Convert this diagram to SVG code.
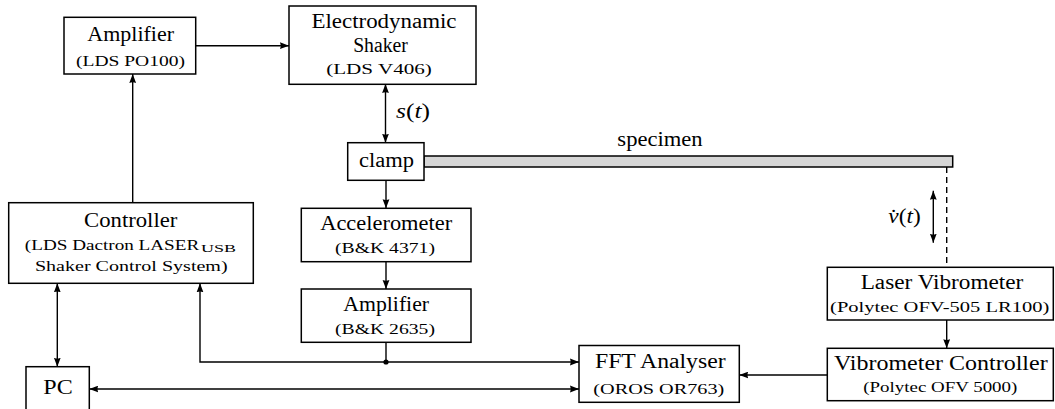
<svg xmlns="http://www.w3.org/2000/svg" width="1055" height="409" viewBox="0 0 1055 409">
  <style>
    .box { fill: #ffffff; stroke: #000000; stroke-width: 1.5; }
    .t { font-family: "Liberation Serif", "Times New Roman", serif; font-size: 20px; fill: #000000; text-anchor: middle; }
    .s { font-family: "Liberation Serif", "Times New Roman", serif; font-size: 14.5px; fill: #000000; text-anchor: middle; }
    .sc { font-family: "Liberation Serif", "Times New Roman", serif; font-size: 11px; fill: #000000; }
    .m { font-family: "Liberation Serif", "Times New Roman", serif; font-size: 20px; fill: #000000; }
    .it { font-style: italic; }
    .wire { fill: none; stroke: #000000; stroke-width: 1.4; }
    .one { marker-end: url(#head); }
    .two { marker-start: url(#head); marker-end: url(#head); }
    .dash { fill: none; stroke: #000000; stroke-width: 1.4; stroke-dasharray: 6 4; }
  </style>
  <defs>
    <marker id="head" markerUnits="userSpaceOnUse" markerWidth="10" markerHeight="8" refX="9" refY="4" orient="auto-start-reverse">
      <path d="M0,0.6 L9,4 L0,7.4 Q1.6,4 0,0.6 z" fill="#000000"/>
    </marker>
  </defs>

  <rect width="1055" height="409" fill="#ffffff"/>

  <!-- specimen beam held by the clamp -->
  <g id="specimen">
    <rect x="424" y="156" width="528.7" height="11" fill="#d6d6d6" stroke="#000000" stroke-width="1.5"/>
    <text class="t" x="660" y="146" textLength="85.3" lengthAdjust="spacingAndGlyphs">specimen</text>
  </g>

  <!-- connectors -->
  <g id="connectors">
    <path class="wire one" d="M196,45.7 H289"/>
    <path class="wire one" d="M132.7,202.7 V74"/>
    <path class="wire two" d="M385.5,84 V142.7"/>
    <path class="wire one" d="M386,180.3 V208.3"/>
    <path class="wire one" d="M386,261.7 V289"/>
    <path class="wire" d="M386,342.3 V362"/>
    <path class="wire one" d="M386,362 H200 V283.3"/>
    <path class="wire one" d="M386,362 H579"/>
    <circle cx="386" cy="362" r="2.6" fill="#000000"/>
    <path class="wire two" d="M89.3,389 H579"/>
    <path class="wire two" d="M57.3,283.3 V366.7"/>
    <path class="wire one" d="M827.3,375 H739.3"/>
    <path class="wire one" d="M946.7,320 V348.3"/>
    <path class="dash" d="M946.7,167 V267.3"/>
    <path class="wire two" d="M933.3,190.7 V242.7"/>
    <text class="m" x="396" y="117.7" textLength="34" lengthAdjust="spacingAndGlyphs"><tspan class="it">s</tspan>(<tspan class="it">t</tspan>)</text>
    <text class="m" x="888.3" y="223.3" textLength="32.4" lengthAdjust="spacingAndGlyphs"><tspan class="it">v̇</tspan>(<tspan class="it">t</tspan>)</text>
  </g>

  <g id="amplifier-lds">
    <rect class="box" x="64" y="17.3" width="131.7" height="56.7"/>
    <text class="t" x="130.7" y="40.5" textLength="86.7" lengthAdjust="spacingAndGlyphs">Amplifier</text>
    <text class="s" x="130.5" y="65.5" textLength="109" lengthAdjust="spacingAndGlyphs">(LDS PO100)</text>
  </g>

  <g id="shaker">
    <rect class="box" x="289" y="6" width="187" height="78.3"/>
    <text class="t" x="384" y="27.5" textLength="145" lengthAdjust="spacingAndGlyphs">Electrodynamic</text>
    <text class="t" x="380.5" y="51.5" textLength="54.7" lengthAdjust="spacingAndGlyphs">Shaker</text>
    <text class="s" x="379" y="74" textLength="105.7" lengthAdjust="spacingAndGlyphs">(LDS V406)</text>
  </g>

  <g id="clamp">
    <rect class="box" x="347.7" y="142.7" width="76.3" height="37.6"/>
    <text class="t" x="386.5" y="167.3" textLength="55" lengthAdjust="spacingAndGlyphs">clamp</text>
  </g>

  <g id="accelerometer">
    <rect class="box" x="301.3" y="208.3" width="169.7" height="53.4"/>
    <text class="t" x="386.2" y="230" textLength="132" lengthAdjust="spacingAndGlyphs">Accelerometer</text>
    <text class="s" x="385" y="253.3" textLength="100" lengthAdjust="spacingAndGlyphs">(B&amp;K 4371)</text>
  </g>

  <g id="amplifier-bk">
    <rect class="box" x="301.3" y="289" width="169.7" height="53.3"/>
    <text class="t" x="386.2" y="310.5" textLength="85.7" lengthAdjust="spacingAndGlyphs">Amplifier</text>
    <text class="s" x="385" y="334" textLength="100" lengthAdjust="spacingAndGlyphs">(B&amp;K 2635)</text>
  </g>

  <g id="controller">
    <rect class="box" x="8.7" y="202.7" width="244.6" height="80.6"/>
    <text class="t" x="130.7" y="226.7" textLength="93.3" lengthAdjust="spacingAndGlyphs">Controller</text>
    <text class="s" x="112" y="250" textLength="174.3" lengthAdjust="spacingAndGlyphs">(LDS Dactron LASER</text>
    <text class="sc" x="201" y="252.3" textLength="35" lengthAdjust="spacingAndGlyphs">USB</text>
    <text class="s" x="131.3" y="271" textLength="192.7" lengthAdjust="spacingAndGlyphs">Shaker Control System)</text>
  </g>

  <g id="pc">
    <rect class="box" x="26" y="366.7" width="63.3" height="60"/>
    <text class="t" x="58" y="394.3" textLength="29.4" lengthAdjust="spacingAndGlyphs">PC</text>
  </g>

  <g id="fft-analyser">
    <rect class="box" x="579" y="345.5" width="160.3" height="56.8"/>
    <text class="t" x="660.3" y="368.3" textLength="130.7" lengthAdjust="spacingAndGlyphs">FFT Analyser</text>
    <text class="s" x="658.8" y="394" textLength="131" lengthAdjust="spacingAndGlyphs">(OROS OR763)</text>
  </g>

  <g id="laser-vibrometer">
    <rect class="box" x="827.3" y="267.3" width="226" height="52.7"/>
    <text class="t" x="942" y="289.3" textLength="162.7" lengthAdjust="spacingAndGlyphs">Laser Vibrometer</text>
    <text class="s" x="939.7" y="311.7" textLength="219.3" lengthAdjust="spacingAndGlyphs">(Polytec OFV-505 LR100)</text>
  </g>

  <g id="vibrometer-controller">
    <rect class="box" x="827.3" y="348.3" width="226" height="52.4"/>
    <text class="t" x="940.8" y="370" textLength="213.7" lengthAdjust="spacingAndGlyphs">Vibrometer Controller</text>
    <text class="s" x="940.3" y="392.3" textLength="154" lengthAdjust="spacingAndGlyphs">(Polytec OFV 5000)</text>
  </g>
</svg>
